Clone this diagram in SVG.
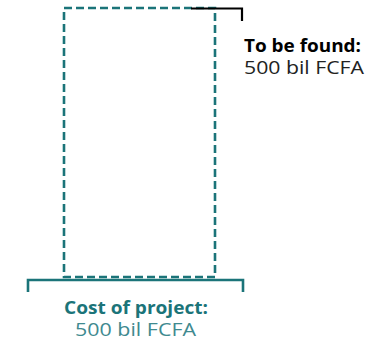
<svg xmlns="http://www.w3.org/2000/svg" width="365" height="343" viewBox="0 0 365 343">
<style>
.t{font-family:"Open Sans","Liberation Sans",sans-serif;font-size:18px}
.b{font-weight:bold}
</style>
<rect width="365" height="343" fill="#fff"/>
<g id="project-box">
<rect x="64" y="8" width="151" height="269" fill="none" stroke="#1b7479" stroke-width="2.6" stroke-dasharray="8,4"/>
</g>
<g id="connectors">
<path d="M191 8.5H242V21" fill="none" stroke="#000" stroke-width="2.2"/>
<path d="M28 292V280H243V292" fill="none" stroke="#1b7479" stroke-width="2.6"/>
</g>
<g id="to-be-found">
<text class="t b" x="244" y="52" fill="#000" textLength="117" lengthAdjust="spacingAndGlyphs">To be found:</text>
<text class="t" x="244" y="74" fill="#222" textLength="120" lengthAdjust="spacingAndGlyphs">500 bil FCFA</text>
</g>
<g id="cost-of-project">
<text class="t b" x="64" y="314" fill="#1b7479" textLength="144" lengthAdjust="spacingAndGlyphs">Cost of project:</text>
<text class="t" x="75" y="336" fill="#3f8a90" textLength="121" lengthAdjust="spacingAndGlyphs">500 bil FCFA</text>
</g>
</svg>
